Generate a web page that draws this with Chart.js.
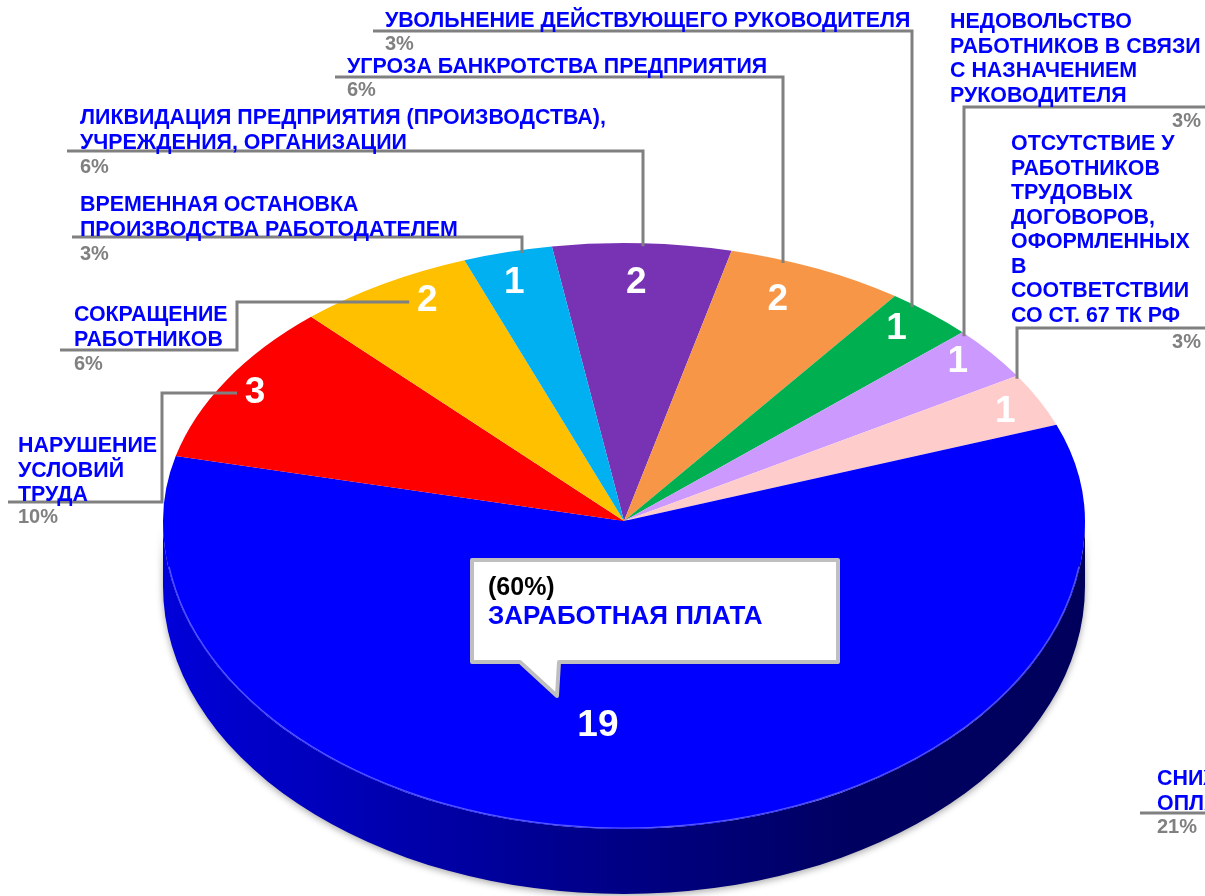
<!DOCTYPE html>
<html>
<head>
<meta charset="utf-8">
<script src="https://cdn.jsdelivr.net/npm/chart.js@4.4.1/dist/chart.umd.min.js"></script>
<style>
  html, body { margin: 0; padding: 0; background: #fff; overflow: hidden; }
  #chart { display: block; }
</style>
</head>
<body>
<canvas id="chart" width="1205" height="896"></canvas>
<script>
// data (clockwise from the top)
const categories = [
  ['ЛИКВИДАЦИЯ ПРЕДПРИЯТИЯ (ПРОИЗВОДСТВА),', 'УЧРЕЖДЕНИЯ, ОРГАНИЗАЦИИ'],
  ['УГРОЗА БАНКРОТСТВА ПРЕДПРИЯТИЯ'],
  ['УВОЛЬНЕНИЕ ДЕЙСТВУЮЩЕГО РУКОВОДИТЕЛЯ'],
  ['НЕДОВОЛЬСТВО', 'РАБОТНИКОВ В СВЯЗИ', 'С НАЗНАЧЕНИЕМ', 'РУКОВОДИТЕЛЯ'],
  ['ОТСУТСТВИЕ У', 'РАБОТНИКОВ', 'ТРУДОВЫХ', 'ДОГОВОРОВ,', 'ОФОРМЛЕННЫХ', 'В', 'СООТВЕТСТВИИ', 'СО СТ. 67 ТК РФ'],
  ['ЗАРАБОТНАЯ ПЛАТА'],
  ['НАРУШЕНИЕ', 'УСЛОВИЙ', 'ТРУДА'],
  ['СОКРАЩЕНИЕ', 'РАБОТНИКОВ'],
  ['ВРЕМЕННАЯ ОСТАНОВКА', 'ПРОИЗВОДСТВА РАБОТОДАТЕЛЕМ']
];
const values = [2, 2, 1, 1, 1, 19, 3, 2, 1];
const percentLabels = ['6%', '6%', '3%', '3%', '3%', '60%', '10%', '6%', '3%'];
// label of a slice that is cut off at the right edge
const extraCategory = ['СНИЖЕНИЕ', 'ОПЛАТЫ ТРУДА'];
const extraPercent = '21%';

const colors = ['#7733B4', '#F79646', '#00B050', '#CC99FF', '#FFCCCC', '#0000FF', '#FF0000', '#FFC000', '#00B0F0'];

// 3d look: centre, radii of the upper / lower half of the top face, depth
const CX = 624, CY = 521, RX = 461, RYT = 278, RYB = 308, DEPTH = 65;

const FONT = '"Liberation Sans", Arial, sans-serif';
const LINE_H = 24.5;

// small shifts of the value labels, as placed in the original
const valueNudge = [[-4, 12], [-20, 6], [-3, -5], [3, -8], [8, 0], [-44, 2], [-11, -2], [20, -7], [-5, 4]];

// where the outside labels sit
const labelLayout = [
  { x: 80, y: 124, pct: [80, 173, 'left'], leader: [[67, 151], [643, 151]], end: 'edge' },
  { x: 347, y: 73, pct: [347, 96, 'left'], leader: [[335, 77], [783, 77]], end: 'edge' },
  { x: 385, y: 27, pct: [385, 50, 'left'], leader: [[373, 31], [912, 31]], end: 'edge' },
  { x: 950, y: 28, pct: [1201, 127, 'right'], leader: [[1205, 107], [964, 107]], end: 'edge' },
  { x: 1011, y: 150, pct: [1201, 348, 'right'], leader: [[1205, 328], [1017, 328]], end: 'edge' },
  { callout: [472, 560, 838, 662], tail: [[559, 662], [557, 696], [520, 662]], x: 488, y: 595 },
  { x: 18, y: 452, pct: [18, 523, 'left'], leader: [[8, 502], [162, 502], [162, 393]], end: 'label' },
  { x: 74, y: 321, pct: [74, 370, 'left'], leader: [[60, 350], [237, 350], [237, 302]], end: 'label' },
  { x: 80, y: 211, pct: [80, 260, 'left'], leader: [[72, 237], [522, 237]], end: 'edge' }
];
const extraLayout = { x: 1157, y: 785, pct: [1157, 833, 'left'], leader: [[1140, 813], [1205, 813]] };

function shade(hex, k) {
  const n = parseInt(hex.slice(1), 16);
  const r = Math.round(((n >> 16) & 255) * k), g = Math.round(((n >> 8) & 255) * k), b = Math.round((n & 255) * k);
  return 'rgb(' + r + ',' + g + ',' + b + ')';
}

function mapFace(ctx, el, ry) {
  ctx.translate(CX, CY);
  ctx.scale(RX / el.outerRadius, ry / el.outerRadius);
  ctx.translate(-el.x, -el.y);
}

function valuePos(arc, i) {
  const mid = (arc.startAngle + arc.endAngle) / 2;
  const f = values[i] === Math.max(...values) ? 0.66 : 0.9;
  const ry = Math.sin(mid) > 0 ? RYB : RYT;
  return [CX + RX * f * Math.cos(mid) + valueNudge[i][0], CY + ry * f * Math.sin(mid) + valueNudge[i][1]];
}

const pie3d = {
  id: 'pie3d',
  beforeDatasetsDraw(chart) {
    const ctx = chart.ctx;
    const arcs = chart.getDatasetMeta(0).data;
    // sides of the front half
    ctx.save();
    ctx.shadowColor = 'rgba(0,0,0,0.35)';
    ctx.shadowBlur = 7;
    ctx.shadowOffsetY = 2;
    arcs.forEach((a, i) => {
      const p = a.getProps(['startAngle', 'endAngle'], true);
      let s = p.startAngle, e = p.endAngle;
      while (s < 0) { s += 2 * Math.PI; e += 2 * Math.PI; }
      [[0, Math.PI], [2 * Math.PI, 3 * Math.PI]].forEach(([lo, hi]) => {
        const b0 = Math.max(s, lo), b1 = Math.min(e, hi);
        if (b1 <= b0) return;
        const g = ctx.createLinearGradient(CX - RX, 0, CX + RX, 0);
        g.addColorStop(0, shade(colors[i], 0.85));
        g.addColorStop(0.45, shade(colors[i], 0.55));
        g.addColorStop(0.75, shade(colors[i], 0.38));
        g.addColorStop(1, shade(colors[i], 0.36));
        ctx.fillStyle = g;
        ctx.beginPath();
        ctx.ellipse(CX, CY, RX, RYB, 0, b0, b1, false);
        ctx.lineTo(CX + RX * Math.cos(b1), CY + RYB * Math.sin(b1) + DEPTH);
        ctx.ellipse(CX, CY + DEPTH, RX, RYB, 0, b1, b0, true);
        ctx.closePath();
        ctx.fill();
      });
    });
    ctx.restore();
    // lower half of the top face
    ctx.save();
    ctx.beginPath();
    ctx.rect(0, CY - 1, chart.width, chart.height);
    ctx.clip();
    mapFace(ctx, arcs[0], RYB);
    arcs.forEach(a => a.draw(ctx));
    ctx.restore();
    // upper half is drawn by the library itself
    ctx.save();
    ctx.beginPath();
    ctx.rect(0, 0, chart.width, CY + 0.5);
    ctx.clip();
    mapFace(ctx, arcs[0], RYT);
  },
  afterDatasetsDraw(chart) {
    const ctx = chart.ctx;
    ctx.restore();
    const arcs = chart.getDatasetMeta(0).data;

    // soft highlight along the front rim
    ctx.save();
    ctx.strokeStyle = 'rgba(110,110,255,0.8)';
    ctx.lineWidth = 1.2;
    ctx.beginPath();
    ctx.ellipse(CX, CY, RX - 1, RYB - 1, 0, 0.15, Math.PI - 0.15);
    ctx.stroke();
    ctx.restore();

    // values on the slices
    ctx.save();
    ctx.fillStyle = '#fff';
    ctx.font = 'bold 37px ' + FONT;
    ctx.textAlign = 'center';
    ctx.textBaseline = 'middle';
    const pos = arcs.map((a, i) => valuePos(a.getProps(['startAngle', 'endAngle'], true), i));
    pos.forEach((p, i) => ctx.fillText(String(values[i]), p[0], p[1]));
    ctx.restore();

    // leader lines and outside labels
    const drawLabel = (lines, L, pctText, endPt) => {
      ctx.save();
      ctx.strokeStyle = '#808080';
      ctx.lineWidth = 3;
      ctx.lineJoin = 'miter';
      ctx.beginPath();
      L.leader.forEach((pt, k) => k ? ctx.lineTo(pt[0], pt[1]) : ctx.moveTo(pt[0], pt[1]));
      if (endPt) ctx.lineTo(endPt[0], endPt[1]);
      ctx.stroke();
      ctx.font = 'bold 21.4px ' + FONT;
      ctx.fillStyle = '#0000FF';
      ctx.textAlign = 'left';
      ctx.textBaseline = 'alphabetic';
      lines.forEach((t, k) => ctx.fillText(t, L.x, L.y + k * LINE_H));
      ctx.font = 'bold 20px ' + FONT;
      ctx.fillStyle = '#808080';
      ctx.textAlign = L.pct[2];
      ctx.fillText(pctText, L.pct[0], L.pct[1]);
      ctx.restore();
    };

    labelLayout.forEach((L, i) => {
      if (L.callout) {
        const [x0, y0, x1, y1] = L.callout;
        ctx.save();
        ctx.beginPath();
        ctx.moveTo(x0, y0);
        ctx.lineTo(x1, y0);
        ctx.lineTo(x1, y1);
        L.tail.forEach(pt => ctx.lineTo(pt[0], pt[1]));
        ctx.lineTo(x0, y1);
        ctx.closePath();
        ctx.shadowColor = 'rgba(0,0,0,0.3)';
        ctx.shadowBlur = 4;
        ctx.shadowOffsetY = 1;
        ctx.fillStyle = '#fff';
        ctx.fill();
        ctx.shadowColor = 'transparent';
        ctx.strokeStyle = '#BFBFBF';
        ctx.lineWidth = 4;
        ctx.lineJoin = 'round';
        ctx.stroke();
        ctx.font = 'bold 25px ' + FONT;
        ctx.fillStyle = '#000';
        ctx.fillText('(' + percentLabels[i] + ')', L.x, L.y);
        ctx.fillStyle = '#0000FF';
        ctx.font = 'bold 26px ' + FONT;
        categories[i].forEach((t, k) => ctx.fillText(t, L.x, L.y + 29 + k * LINE_H));
        ctx.restore();
        return;
      }
      const last = L.leader[L.leader.length - 1];
      let endPt;
      if (L.end === 'edge') {
        const u = (last[0] - CX) / RX;
        endPt = [last[0], CY - RYT * Math.sqrt(Math.max(0, 1 - u * u)) + 3];
      } else {
        endPt = [pos[i][0] - 18, last[1]];
      }
      drawLabel(categories[i], L, percentLabels[i], endPt);
    });
    drawLabel(extraCategory, extraLayout, extraPercent, null);
  }
};

new Chart(document.getElementById('chart'), {
  type: 'pie',
  data: {
    labels: categories,
    datasets: [{
      data: values,
      backgroundColor: colors,
      borderWidth: 0,
      clip: false
    }]
  },
  options: {
    responsive: false,
    animation: false,
    rotation: -9,
    layout: { padding: 0 },
    plugins: {
      legend: { display: false },
      tooltip: { enabled: false }
    }
  },
  plugins: [pie3d]
});
</script>
</body>
</html>
